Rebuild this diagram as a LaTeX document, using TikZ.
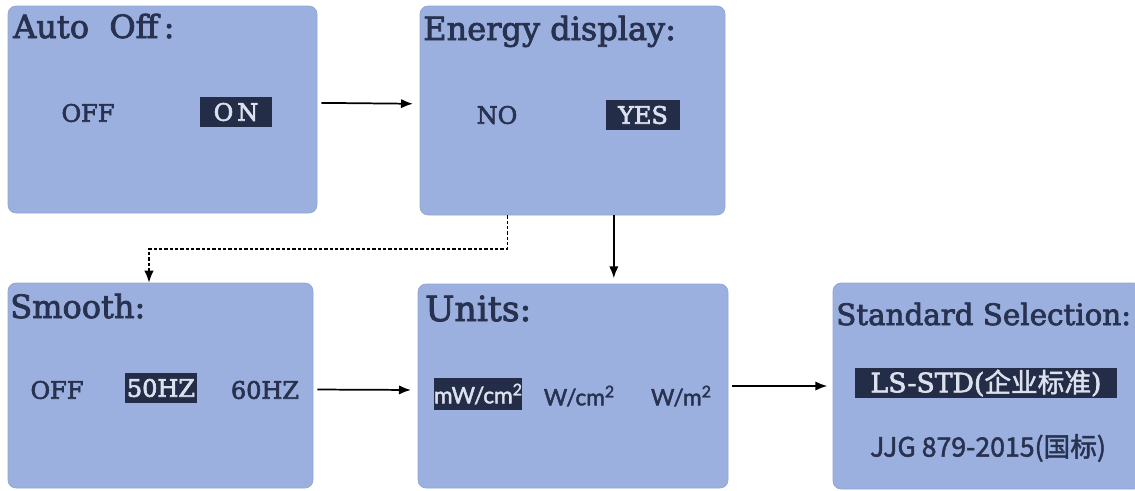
\documentclass[tikz,border=0pt]{standalone}
\usepackage{fontspec}
\setmainfont{DejaVu Serif}
\newfontfamily\heavyserif[FakeBold=2.5]{DejaVu Serif}
\newfontfamily\unitfont[FakeBold=2]{Lato}
\newfontfamily\cjk[FakeBold=1.8]{Noto Sans CJK SC}
\usetikzlibrary{fit, arrows.meta}
\definecolor{panel}{HTML}{9BB0DE}
\definecolor{ink}{HTML}{283250}
\definecolor{lcd}{HTML}{DCE1EE}
\tikzset{
  panelbox/.style={fill=panel, draw=panel!94!black, line width=0.5pt, rounded corners=6pt, inner sep=0pt},
  title/.style={anchor=base west, inner sep=0pt, text=ink, font=\heavyserif\fontsize{24}{26}\selectfont},
  option/.style={inner sep=0pt, text=ink, font=\heavyserif\fontsize{18}{20}\selectfont},
  picked/.style={fill=ink!90!black, text=lcd},
  link/.style={->, >={Latex[length=9pt, width=7pt]}, line width=1.3pt}
}

\begin{document}
\begin{tikzpicture}[x=0.75pt, y=-0.75pt]
      \useasboundingbox (0,0) rectangle (1135,490);
      % Panels
      \node[panelbox, fit={(8,6) (317,213)}] (autooff) {};
      \node[panelbox, fit={(420,6) (725,215)}] (energy) {};
      \node[panelbox, fit={(8,283) (313,488)}] (smooth) {};
      \node[panelbox, fit={(418,284) (728,488)}] (units) {};
      \node[panelbox, fit={(833,283) (1142,489)}] (standard) {};
      % Titles
      \node[title] (autoofftitle) at (13,38) {Auto\ \ Off\,:};
      \node[title] (energytitle) at (423,40) {Energy display:};
      \node[title] (smoothtitle) at (10,318) {Smooth:};
      \node[title, font=\heavyserif\fontsize{26}{28}\selectfont] (unitstitle) at (425,321) {Units:};
      \node[title, font=\heavyserif\fontsize{22}{24}\selectfont] (standardtitle) at (836,325) {Standard Selection:};
      % Choices
      \node[option] (autooffoff) at (88,113) {OFF};
      \node[option, picked, minimum width=54pt, minimum height=22pt] (autooffon) at (236,112) {O\,N};
      \node[option] (energyno) at (497,115) {NO};
      \node[option, picked, minimum width=55pt, minimum height=23pt] (energyyes) at (643,115) {YES};
      \node[option] (smoothoff) at (57,390) {OFF};
      \node[option, picked, minimum width=54pt, minimum height=22pt] (smoothfifty) at (161,388) {50HZ};
      \node[option] (smoothsixty) at (265,390) {60HZ};
      \node[option, picked, font=\unitfont\fontsize{17}{19}\selectfont, minimum width=63pt, minimum height=24pt] (unitsmw) at (478,394) {mW/cm{\fontsize{12}{12}\selectfont\raisebox{6pt}{2}}};
      \node[option, font=\unitfont\fontsize{17}{19}\selectfont] (unitswcm) at (579,396) {W/cm{\fontsize{12}{12}\selectfont\raisebox{6pt}{2}}};
      \node[option, font=\unitfont\fontsize{17}{19}\selectfont] (unitswm) at (681,396) {W/m{\fontsize{12}{12}\selectfont\raisebox{6pt}{2}}};
      \node[option, picked, font=\heavyserif\fontsize{20}{22}\selectfont, minimum width=197pt, minimum height=23pt] (standardls) at (986,383) {LS-STD({\cjk 企业标准})};
      \node[option, font=\cjk\fontsize{20}{22}\selectfont] (standardjjg) at (988,448) {JJG 879-2015(国标)};
      % Arrows
      \draw[link, shorten <=3pt, shorten >=5pt] ([yshift=5pt]autooff.east) -- ([yshift=5pt]energy.west);
      \draw[link, shorten <=3pt, shorten >=5pt] ([yshift=-3pt]smooth.east) -- ([yshift=-3pt]units.west);
      \draw[link, shorten <=3pt, shorten >=4pt] (units.east) -- (standard.west);
      \draw[link, shorten >=4pt] ([xshift=31pt]energy.south) -- ([xshift=31pt]energy.south |- units.north);
      % dashed way round
      \coordinate (dashbend) at (149,249);
      \draw[link, line width=1pt, dash pattern=on 2.5pt off 1.5pt] ([xshift=-49pt]energy.south) |- (dashbend) -- (dashbend |- smooth.north);
\end{tikzpicture}
\end{document}
